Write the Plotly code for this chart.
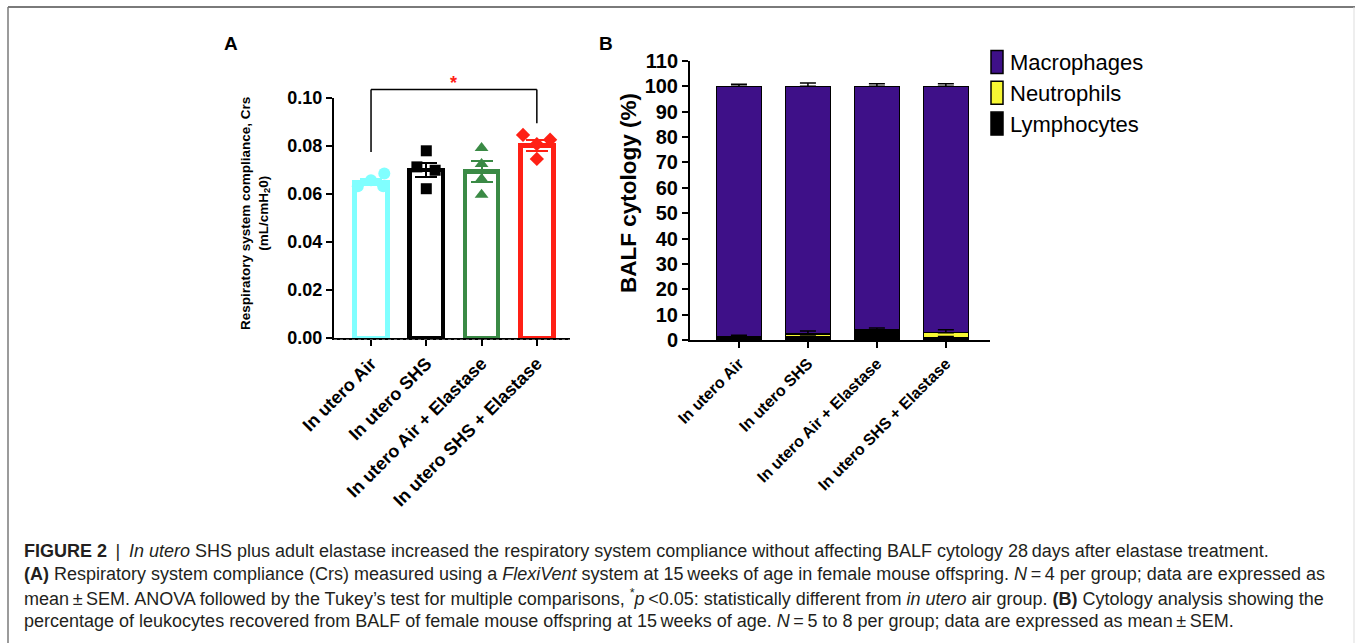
import numpy as np
import plotly.graph_objects as go

# ---------------- data ----------------
categories = ["In utero Air", "In utero SHS", "In utero Air + Elastase", "In utero SHS + Elastase"]

# Panel A: respiratory system compliance (mL/cmH2O)
crs_mean = [0.0650, 0.0700, 0.0694, 0.0803]
crs_sem = [0.0013, 0.0029, 0.0043, 0.0024]
crs_points = [
    [0.0632, 0.0657, 0.0685, 0.0632],
    [0.0780, 0.0713, 0.0699, 0.0622],
    [0.0792, 0.0725, 0.0663, 0.0597],
    [0.0846, 0.0826, 0.0808, 0.0746],
]
crs_ticks = [0.00, 0.02, 0.04, 0.06, 0.08, 0.10]

# Panel B: BALF cytology (%)
lymphocytes = [1.3, 1.3, 3.2, 1.0]
lymph_sem = [0.6, 0.3, 0.3, 0.4]
neutrophils = [0.1, 1.1, 0.8, 1.9]
neut_sem = [0.1, 1.1, 0.7, 1.1]
macrophages = [98.6, 97.6, 96.0, 97.1]
macro_sem = [0.8, 1.3, 1.0, 1.0]
cyto_ticks = list(range(0, 111, 10))

caption_lines = [
    "<b>FIGURE 2</b>\u2009 | \u2009<i>In utero</i> SHS plus adult elastase increased the respiratory system compliance without affecting BALF cytology 28\u2009days after elastase treatment.",
    "<b>(A)</b> Respiratory system compliance (Crs) measured using a <i>FlexiVent</i> system at 15\u2009weeks of age in female mouse offspring. <i>N</i>\u2009=\u20094 per group; data are expressed as",
    "mean\u2009±\u2009SEM. ANOVA followed by the Tukey\u2019s test for multiple comparisons, <sup>*</sup><i>p</i>\u2009&lt;0.05: statistically different from <i>in utero</i> air group. <b>(B)</b> Cytology analysis showing the",
    "percentage of leukocytes recovered from BALF of female mouse offspring at 15\u2009weeks of age. <i>N</i>\u2009=\u20095 to 8 per group; data are expressed as mean\u2009±\u2009SEM.",
]

# ---------------- styles ----------------
W, H = 1355, 643
FONT = "Liberation Sans, Arial, Helvetica, sans-serif"
groupA_colors = ["#80ffff", "#000000", "#3a8a45", "#ff2015"]
groupA_symbols = ["circle", "square", "triangle-up", "diamond"]
groupA_sizes = [12, 11, 12, 11]
jitter = [
    [-0.24, 0.0, 0.24, 0.22],
    [0.0, -0.17, 0.16, 0.0],
    [0.0, 0.0, 0.0, 0.0],
    [-0.25, 0.24, 0.0, 0.0],
]
cyto_colors = {"Lymphocytes": "#000000", "Neutrophils": "#f7f733", "Macrophages": "#3e1088"}


def fx(px):
    return px / W


def fy(py):
    return 1 - py / H


# axis domains (pixels)
A_x = (334, 570)
A_y = (338, 98)
B_x = (690, 990)
B_y = (340, 61)
A_range = [0, 0.10]


def ya(v):
    d0, d1 = fy(A_y[0]), fy(A_y[1])
    return d0 + (v - A_range[0]) / (A_range[1] - A_range[0]) * (d1 - d0)


fig = go.Figure()
idx = list(range(len(categories)))

# Panel A bars (outlined)
for i in idx:
    fig.add_trace(go.Bar(
        x=[i], y=[crs_mean[i]], width=0.6,
        marker=dict(color="white", line=dict(color=groupA_colors[i], width=4.5)),
        error_y=dict(type="data", array=[crs_sem[i]], color=groupA_colors[i], thickness=2, width=11),
        xaxis="x", yaxis="y", showlegend=False, hoverinfo="skip",
    ))
# Panel A points
for i in idx:
    fig.add_trace(go.Scatter(
        x=[i + j for j in jitter[i]], y=crs_points[i], mode="markers",
        marker=dict(symbol=groupA_symbols[i], color=groupA_colors[i], size=groupA_sizes[i]),
        xaxis="x", yaxis="y", showlegend=False, cliponaxis=False,
    ))

# Panel B stacked bars
series_B = [("Lymphocytes", lymphocytes, lymph_sem),
            ("Neutrophils", neutrophils, neut_sem),
            ("Macrophages", macrophages, macro_sem)]
for name, vals, sem in series_B:
    fig.add_trace(go.Bar(
        x=idx, y=vals, name=name, width=0.65,
        marker=dict(color=cyto_colors[name], line=dict(color="black", width=1.5)),
        xaxis="x2", yaxis="y2", showlegend=False,
    ))
# upward SEM bars at the top of each stacked segment (drawn above the bars)
cum = np.zeros(len(idx))
for name, vals, sem in series_B:
    cum = cum + np.array(vals)
    fig.add_trace(go.Scatter(
        x=idx, y=cum.tolist(), mode="markers", marker=dict(size=1, color="rgba(0,0,0,0)"),
        error_y=dict(type="data", array=sem, arrayminus=[0] * len(sem), symmetric=False,
                     color="black", thickness=1.5, width=8),
        xaxis="x2", yaxis="y2", showlegend=False, hoverinfo="skip",
    ))

axis_common = dict(showline=True, linecolor="black", linewidth=2, ticks="outside",
                   tickcolor="black", tickwidth=2, ticklen=6, showgrid=False, zeroline=False,
                   automargin=False)

fig.update_layout(
    template="none",
    width=W, height=H, margin=dict(l=0, r=0, t=0, b=0, pad=0, autoexpand=False),
    paper_bgcolor="white", plot_bgcolor="white", barmode="stack",
    font=dict(family=FONT, color="black"),
    showlegend=False,
    xaxis=dict(domain=[fx(A_x[0]), fx(A_x[1])], range=[-0.67, 3.6], anchor="y",
               tickvals=idx, ticktext=categories, tickangle=-45,
               tickfont=dict(size=18, family=FONT, weight="bold"), **axis_common),
    yaxis=dict(domain=[fy(A_y[0]), fy(A_y[1])], range=A_range, anchor="x",
               tickvals=crs_ticks, tickformat=".2f",
               tickfont=dict(size=18, family=FONT, weight="bold"), **axis_common),
    xaxis2=dict(domain=[fx(B_x[0]), fx(B_x[1])], range=[-0.71, 3.64], anchor="y2",
                tickvals=idx, ticktext=categories, tickangle=-45,
                tickfont=dict(size=16, family=FONT, weight="bold"), **axis_common),
    yaxis2=dict(domain=[fy(B_y[0]), fy(B_y[1])], range=[0, 110], anchor="x2",
                tickvals=cyto_ticks,
                tickfont=dict(size=20, family=FONT, weight="bold"), **axis_common),
)

shapes = []
annotations = []

# frame
shapes.append(dict(type="line", xref="paper", yref="paper", x0=fx(8), x1=fx(1355), y0=fy(7), y1=fy(7),
                   line=dict(color="#7a7a7a", width=2)))
shapes.append(dict(type="line", xref="paper", yref="paper", x0=fx(8), x1=fx(8), y0=fy(7), y1=0,
                   line=dict(color="#7a7a7a", width=1.5)))
shapes.append(dict(type="line", xref="paper", yref="paper", x0=fx(1354), x1=fx(1354), y0=fy(7), y1=0,
                   line=dict(color="#dddddd", width=1)))

# dotted texture under panel A x-axis
shapes.append(dict(type="line", xref="paper", yref="paper", x0=fx(A_x[0]), x1=fx(A_x[1]),
                   y0=fy(A_y[0] + 1.5), y1=fy(A_y[0] + 1.5), line=dict(color="#555555", width=1, dash="dot")))

# significance bracket
br_top, br_left, br_right = 0.1035, 0.0775, 0.0895
for (x0, y0, x1, y1) in [(0, br_left, 0, br_top), (0, br_top, 3, br_top), (3, br_top, 3, br_right)]:
    shapes.append(dict(type="line", xref="x", yref="paper", x0=x0, x1=x1, y0=ya(y0), y1=ya(y1),
                       line=dict(color="black", width=1.5)))
annotations.append(dict(x=1.5, y=ya(0.1062), xref="x", yref="paper", text="<b>*</b>", showarrow=False,
                        font=dict(size=18, color="#ff2015", family=FONT), xanchor="center", yanchor="middle"))

# panel labels
annotations.append(dict(x=fx(231), y=fy(43), xref="paper", yref="paper", text="<b>A</b>", showarrow=False,
                        font=dict(size=19, family=FONT), xanchor="center", yanchor="middle"))
annotations.append(dict(x=fx(606), y=fy(43), xref="paper", yref="paper", text="<b>B</b>", showarrow=False,
                        font=dict(size=19, family=FONT), xanchor="center", yanchor="middle"))

# y axis titles
annotations.append(dict(x=fx(255), y=fy(214), xref="paper", yref="paper",
                        text="<b>Respiratory system compliance, Crs<br>(mL/cmH<sub>2</sub>0)</b>",
                        showarrow=False, textangle=-90, font=dict(size=13.5, family=FONT),
                        xanchor="center", yanchor="middle"))
annotations.append(dict(x=fx(628), y=fy(193), xref="paper", yref="paper",
                        text="<b>BALF cytology (%)</b>", showarrow=False, textangle=-90,
                        font=dict(size=22.5, family=FONT), xanchor="center", yanchor="middle"))

# legend (drawn manually to match tall swatches)
legend_items = ["Macrophages", "Neutrophils", "Lymphocytes"]
for k, name in enumerate(legend_items):
    cy = 62 + 30.8 * k
    shapes.append(dict(type="rect", xref="paper", yref="paper", x0=fx(991), x1=fx(1003),
                       y0=fy(cy + 11.5), y1=fy(cy - 11.5), fillcolor=cyto_colors[name],
                       line=dict(color="black", width=1.5)))
    annotations.append(dict(x=fx(1008), y=fy(cy + 1), xref="paper", yref="paper", text=name,
                            showarrow=False, font=dict(size=22, family=FONT),
                            xanchor="left", yanchor="middle"))

# caption
for k, line in enumerate(caption_lines):
    annotations.append(dict(x=fx(22), y=fy(551 + 23.3 * k), xref="paper", yref="paper", text=line,
                            showarrow=False, font=dict(size=18, family=FONT, color="#231f20"),
                            xanchor="left", yanchor="middle", align="left"))

fig.update_layout(shapes=shapes, annotations=annotations)
fig.write_html("out.html", config={"displayModeBar": False},
               post_script="document.body.style.margin='0px';document.body.style.overflow='hidden';")
